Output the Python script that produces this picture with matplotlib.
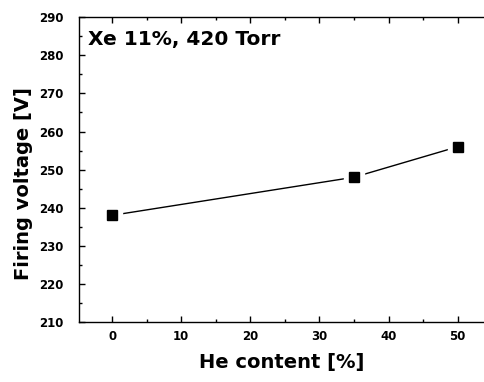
import matplotlib.pyplot as plt
from matplotlib.ticker import MultipleLocator

# He content vs firing voltage
he_content = [0, 35, 50]
firing_voltage = [238, 248, 256]
x_ticks = [0, 10, 20, 30, 40, 50]
y_ticks = [210, 220, 230, 240, 250, 260, 270, 280, 290]

plt.rcParams['font.family'] = 'DejaVu Sans'

fig = plt.figure(figsize=(4.84, 3.82), dpi=100)
ax = fig.add_axes([0.163, 0.157, 0.837, 0.798])

# line with gaps around the markers (white squares hide the ends)
ax.plot(he_content, firing_voltage, color='black', linewidth=1.0, zorder=2)
ax.plot(he_content, firing_voltage, linestyle='none', marker='s', markersize=15,
        color='white', zorder=3)
ax.plot(he_content, firing_voltage, linestyle='none', marker='s', markersize=7,
        color='black', zorder=4)

ax.set_xlim(-4.8, 53.8)
ax.set_ylim(210, 290)
ax.set_xticks(x_ticks)
ax.set_yticks(y_ticks)
ax.xaxis.set_minor_locator(MultipleLocator(5))
ax.yaxis.set_minor_locator(MultipleLocator(5))
ax.tick_params(which='both', direction='in', top=True, right=False,
               labelsize=8.5, width=1.0)
ax.tick_params(which='major', length=4)
ax.tick_params(which='minor', length=2)
ax.tick_params(axis='y', which='major', pad=11)
ax.tick_params(axis='x', which='major', pad=6)
for lbl in ax.get_xticklabels() + ax.get_yticklabels():
    lbl.set_fontweight('bold')
ax.spines['right'].set_visible(False)
for s in ['left', 'bottom', 'top']:
    ax.spines[s].set_linewidth(1.0)

ax.set_xlabel('He content [%]', fontsize=14, fontweight='bold', labelpad=7)
ax.set_ylabel('Firing voltage [V]', fontsize=14, fontweight='bold')
ax.yaxis.set_label_coords(-0.113, 0.455)
ax.text(0.022, 0.928, 'Xe 11%, 420 Torr', transform=ax.transAxes,
        fontsize=14.5, fontweight='bold', va='center', ha='left')

fig.savefig('out.png', dpi=100)
